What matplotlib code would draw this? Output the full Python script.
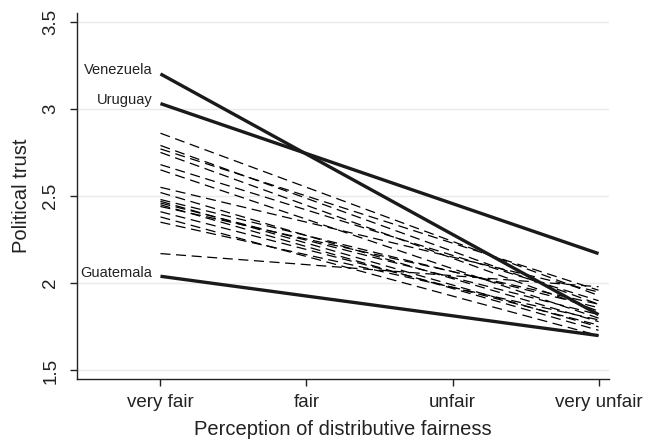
import matplotlib.pyplot as plt

plt.rcParams['font.family'] = ['Liberation Sans', 'DejaVu Sans']

categories = ['very fair', 'fair', 'unfair', 'very unfair']

# highlighted countries: value at "very fair" and at "very unfair"
bold_names = ['Venezuela', 'Uruguay', 'Guatemala']
bold_start = [3.20, 3.03, 2.04]
bold_end = [1.82, 2.17, 1.70]

# remaining countries (dashed)
dash_start = [2.86, 2.79, 2.77, 2.75, 2.68, 2.65, 2.55, 2.52, 2.48,
              2.47, 2.46, 2.45, 2.44, 2.41, 2.38, 2.35, 2.17]
dash_end = [1.93, 1.88, 1.96, 1.84, 1.90, 1.80, 1.95, 1.78, 1.86,
            1.75, 1.82, 1.73, 1.88, 1.76, 1.70, 1.79, 1.98]

yticks = [1.5, 2, 2.5, 3, 3.5]

fig = plt.figure(figsize=(6.49, 4.44), dpi=100)
ax = fig.add_axes([0.119, 0.146, 0.819, 0.825])

x_first, x_last = 1, len(categories)

for s, e in zip(dash_start, dash_end):
    ax.plot([x_first, x_last], [s, e], color='black', lw=0.9,
            dashes=(8, 4.5), zorder=2)

for name, s, e in zip(bold_names, bold_start, bold_end):
    ax.plot([x_first, x_last], [s, e], color='#1a1a1a', lw=2.4,
            solid_capstyle='butt', zorder=3)
    ax.annotate(name, (x_first, s), xytext=(-6, 2.5), textcoords='offset points',
                ha='right', va='center', fontsize=10.5, color='#222222')

ax.set_xlim(0.43, 4.07)
ax.set_ylim(1.45, 3.55)
ax.set_xticks(range(1, len(categories) + 1))
ax.set_xticklabels(categories, fontsize=13.5, color='#222222')
ax.set_yticks(yticks)
ax.set_yticklabels([f'{v:g}' for v in yticks], fontsize=13.5, color='#222222',
                   rotation=90, va='center')
ax.yaxis.grid(True, color='#eaeaea', lw=1)
ax.set_axisbelow(True)

for side in ['top', 'right']:
    ax.spines[side].set_visible(False)
for side in ['left', 'bottom']:
    ax.spines[side].set_color('#222222')
    ax.spines[side].set_linewidth(1.0)
ax.tick_params(axis='x', length=5, width=1, color='#222222', pad=6)
ax.tick_params(axis='y', length=5, width=1, color='#222222', pad=8)

ax.set_xlabel('Perception of distributive fairness', fontsize=14.5,
              color='#222222', labelpad=6)
ax.set_ylabel('Political trust', fontsize=14.5, color='#222222', labelpad=8)

fig.savefig('out.png', dpi=100)
